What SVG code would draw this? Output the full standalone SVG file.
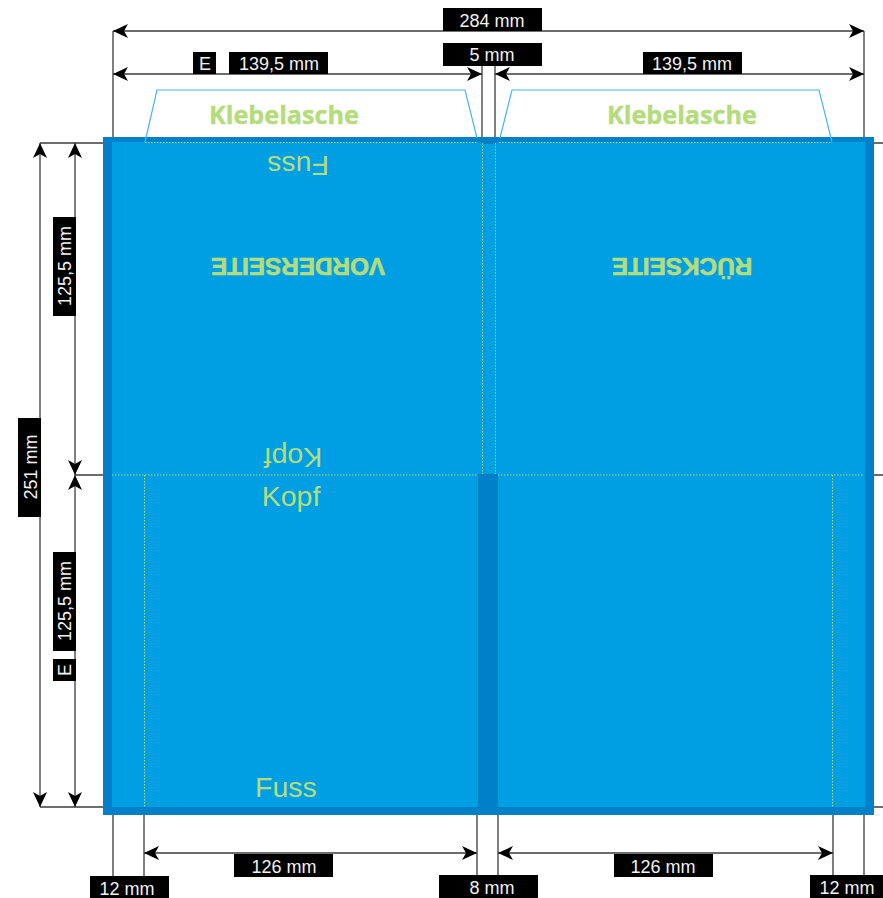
<svg xmlns="http://www.w3.org/2000/svg" width="883" height="898" viewBox="0 0 883 898">
<style>
.dim{fill:none;stroke:#3c3c3c;stroke-width:1.3}
.fold{fill:none;stroke:#a6d873;stroke-width:1;stroke-dasharray:1.5 1.5}
.flap{fill:none;stroke:#45b6ea;stroke-width:1.2}
.lab{fill:#000}
.lt{font:18px "Liberation Sans",Arial,sans-serif;fill:#f2f2f2;text-anchor:middle}
.g{font-family:"Liberation Sans",Arial,sans-serif;fill:#b5dc7c;text-anchor:middle}
.big{font-size:28.500px}
.bold{font-weight:700;font-size:24.300px;stroke:#b5dc7c;stroke-width:.7}
.kl{font-family:"Open Sans",sans-serif;font-weight:700;font-size:25.200px;fill:#b5dc7c;stroke:#b5dc7c;stroke-width:.4;text-anchor:middle}
</style>
<defs>
<marker id="a" markerUnits="userSpaceOnUse" markerWidth="16" markerHeight="14" refX="15" refY="7" orient="auto-start-reverse"><path d="M0 0L15 7L0 14L4 7Z" fill="#000"/></marker>
</defs>
<g id="sheet">
<rect x="103" y="137" width="771" height="678" fill="#0080c9"/>
<rect x="112" y="142" width="753" height="665" fill="#009fe3"/>
<rect x="478" y="474" width="20" height="333" fill="#0080c9"/>
<rect x="481" y="142" width="16" height="2" fill="#0080c9"/>
</g>
<g id="flap-left"><path class="flap" d="M145 142L157 90H465L477 138"/><text class="kl" x="284" y="124">Klebelasche</text></g>
<g id="flap-right"><path class="flap" d="M500 138L512 90H819L832 142"/><text class="kl" x="682" y="124">Klebelasche</text></g>
<g id="folds">
<path class="fold" d="M145 142.500H477M499 142.500H832M482.500 143V474M495.500 143V474M112 475H478M498 475H864M144.500 475V807M832.500 475V807"/>
</g>
<g id="front-labels">
<text class="g big" transform="rotate(180 298 164)" x="298" y="164" dy="8.500">Fuss</text>
<text class="g bold" transform="rotate(180 298 265)" x="298" y="265" dy="7.500">VORDERSEITE</text>
<text class="g big" transform="rotate(180 293 455)" x="293" y="455" dy="7">Kopf</text>
<text class="g big" x="291" y="506">Kopf</text>
<text class="g big" x="286" y="797">Fuss</text>
</g>
<g id="back-label"><text class="g bold" transform="rotate(180 682 265)" x="682" y="265" dy="7.500">RÜCKSEITE</text></g>
<g id="connectors">
<path class="dim" d="M113 31V137M864 31V137M482 66V137M495 66V137M40 143H103M874 143H883M75 475H103M874 475H883M40 807H103M874 807H883M113 815V877M144 815V877M477 815V877M498 815V877M833 815V877M864 815V877"/>
<path class="dim" marker-start="url(#a)" marker-end="url(#a)" d="M113 31H864"/>
<path class="dim" marker-start="url(#a)" marker-end="url(#a)" d="M113 74H482"/>
<path class="dim" marker-start="url(#a)" marker-end="url(#a)" d="M495 74H864"/>
<path class="dim" marker-start="url(#a)" marker-end="url(#a)" d="M40 143V807"/>
<path class="dim" marker-start="url(#a)" marker-end="url(#a)" d="M75 143V475"/>
<path class="dim" marker-start="url(#a)" marker-end="url(#a)" d="M75 475V807"/>
<path class="dim" marker-start="url(#a)" marker-end="url(#a)" d="M144 853H477"/>
<path class="dim" marker-start="url(#a)" marker-end="url(#a)" d="M498 853H833"/>
</g>
<g id="label-284"><rect class="lab" x="443" y="8" width="99" height="23"/><text class="lt" x="492" y="27">284 mm</text></g>
<g id="label-5"><rect class="lab" x="443" y="43" width="99" height="23"/><text class="lt" x="492" y="61">5 mm</text></g>
<g id="label-e-top"><rect class="lab" x="193" y="52" width="23" height="22"/><text class="lt" x="205" y="70">E</text></g>
<g id="label-139-left"><rect class="lab" x="229" y="52" width="99" height="22"/><text class="lt" x="279" y="70">139,5 mm</text></g>
<g id="label-139-right"><rect class="lab" x="643" y="52" width="99" height="22"/><text class="lt" x="692" y="70">139,5 mm</text></g>
<g id="label-125-top"><rect class="lab" x="53" y="217" width="23" height="99"/><text class="lt" transform="rotate(-90 71 266)" x="71" y="266">125,5 mm</text></g>
<g id="label-251"><rect class="lab" x="18" y="418" width="23" height="99"/><text class="lt" transform="rotate(-90 37 467)" x="37" y="467">251 mm</text></g>
<g id="label-125-bottom"><rect class="lab" x="53" y="552" width="23" height="99"/><text class="lt" transform="rotate(-90 71 601)" x="71" y="601">125,5 mm</text></g>
<g id="label-e-left"><rect class="lab" x="53" y="659" width="23" height="22"/><text class="lt" transform="rotate(-90 71 670)" x="71" y="670">E</text></g>
<g id="label-126-left"><rect class="lab" x="234" y="854" width="99" height="23"/><text class="lt" x="284" y="873">126 mm</text></g>
<g id="label-126-right"><rect class="lab" x="614" y="854" width="99" height="23"/><text class="lt" x="663" y="873">126 mm</text></g>
<g id="label-12-left"><rect class="lab" x="90" y="876" width="79" height="22"/><text class="lt" x="127" y="895">12 mm</text></g>
<g id="label-8"><rect class="lab" x="439" y="875" width="99" height="23"/><text class="lt" x="492" y="894">8 mm</text></g>
<g id="label-12-right"><rect class="lab" x="810" y="875" width="73" height="23"/><text class="lt" x="847" y="894">12 mm</text></g>
</svg>
